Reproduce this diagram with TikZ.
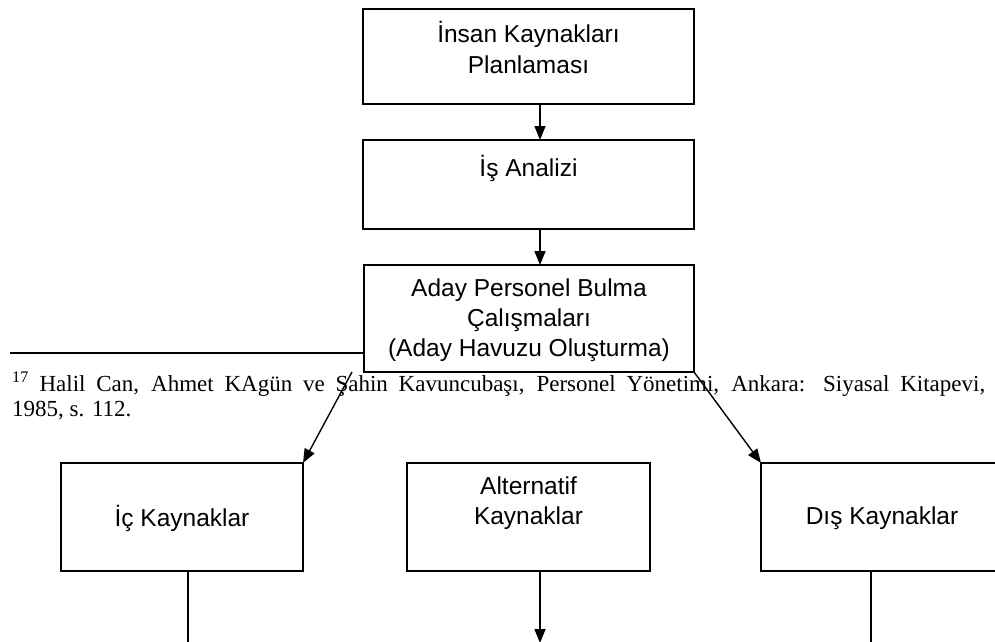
\documentclass[tikz,border=0pt]{standalone}
\usepackage{fontspec}
\setmainfont{Liberation Serif}
\newfontfamily\boxfont{Liberation Sans}
\usetikzlibrary{arrows.meta}
\tikzset{
  box/.style={draw, line width=1.6pt, fill=white, inner sep=0pt, outer sep=0pt},
  boxtext/.style={font=\boxfont\fontsize{24.5}{30}\selectfont, align=center, inner sep=0pt},
  conn/.style={line width=1.4pt},
  arr/.style={conn, -{Triangle[length=14pt,width=11pt]}},
  fnrule/.style={line width=1.8pt},
  fntext/.style={font=\fontsize{23}{25}\selectfont, text width=973pt, align=justify, inner sep=0pt},
}
\begin{document}
\begin{tikzpicture}[x=1pt,y=-1pt]
\useasboundingbox (0,0) rectangle (995,641);
\fill[white] (0,0) rectangle (995,641);
\clip (0,0) rectangle (995,641);
% footnote
\coordinate (r0) at (10,353);
\coordinate (r1) at (364,353);
\draw[fnrule] (r0) -- (r1);
% boxes
\node[box, minimum width=331pt, minimum height=95pt] (b1) at (528.5,56.5) {};
\node[boxtext, font=\boxfont\fontsize{24.5}{31}\selectfont] (t1) at (528.5,47) {İnsan Kaynakları\\Planlaması};
\node[box, minimum width=331pt, minimum height=89pt] (b2) at (528.5,184.5) {};
\node[boxtext] (t2) at (528.5,168) {İş Analizi};
\node[box, minimum width=330pt, minimum height=107pt] (b3) at (529,318.5) {};
\node[boxtext] (t3) at (529,320) {Aday Personel Bulma\\Çalışmaları\\(Aday Havuzu Oluşturma)};
\node[fntext, anchor=north west] (fn) at (12,372)
  {\tolerance=10000\hyphenpenalty=10000\textsuperscript{17} Halil Can, Ahmet KAgün ve Şahin Kavuncubaşı, Personel Yönetimi, Ankara: Siyasal Kitapevi,\linebreak 1985, s. 112.};
\node[box, minimum width=242pt, minimum height=108pt] (ic) at (182,517) {};
\node[boxtext] (t4) at (182,518) {İç Kaynaklar};
\node[box, minimum width=243pt, minimum height=108pt] (alt) at (528.5,517) {};
\node[boxtext] (t5) at (528.5,503) {Alternatif\\Kaynaklar};
\node[box, minimum width=242pt, minimum height=108pt] (dis) at (882,517) {};
\node[boxtext] (t6) at (882,518) {Dış Kaynaklar};
% connectors
\draw[arr] ([xshift=11.5pt]b1.south) -- ([xshift=11.5pt]b2.north);
\draw[arr] ([xshift=11.5pt]b2.south) -- ([xshift=11pt]b3.north);
\draw[arr] ([xshift=-12pt]b3.south west) -- (ic.north east);
\draw[arr] (b3.south east) -- (dis.north west);
\coordinate (e1) at (188,650);
\coordinate (e2) at (540,643);
\coordinate (e3) at (871,650);
\draw[conn] ([xshift=6pt]ic.south) -- (e1);
\draw[arr] ([xshift=11.5pt]alt.south) -- (e2);
\draw[conn] ([xshift=-11pt]dis.south) -- (e3);
\end{tikzpicture}
\end{document}
